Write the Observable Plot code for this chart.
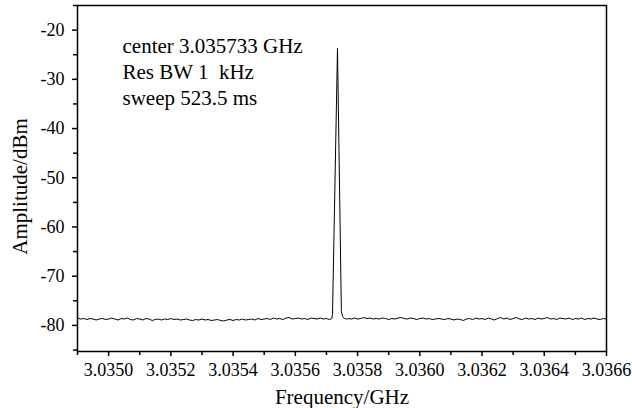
<!DOCTYPE html>
<html><head><meta charset="utf-8">
<script src="https://cdn.jsdelivr.net/npm/d3@7"></script>
<script src="https://cdn.jsdelivr.net/npm/@observablehq/plot@0.6"></script>
<style>body{margin:0;background:#fff}</style>
</head><body><div id="chart"></div>
<script>
// Noise floor sampled on a uniform sweep grid (GHz), amplitudes in dBm
const noiseLeftStart = 3.03490;
const noiseRightStart = 3.03577;
const noiseStep = 0.00001;
const noiseLeft = [
 -78.5,-78.7,-78.6,-78.8,-78.6,-78.7,-78.9,-78.7,-78.6,-78.8,
 -78.7,-78.5,-78.7,-78.9,-78.6,-78.7,-78.5,-78.8,-78.9,-78.6,
 -78.7,-78.9,-78.6,-78.7,-79.0,-78.8,-78.7,-78.9,-78.7,-78.8,
 -78.6,-78.8,-78.7,-78.9,-78.8,-78.7,-78.9,-79.0,-78.8,-78.9,
 -78.7,-78.9,-78.8,-79.0,-78.9,-78.8,-79.0,-79.1,-78.9,-78.8,
 -79.0,-78.8,-78.9,-78.7,-78.9,-78.8,-78.7,-78.9,-78.6,-78.8,
 -78.7,-78.6,-78.8,-78.5,-78.7,-78.6,-78.8,-78.5,-78.4,-78.7,
 -78.6,-78.5,-78.7,-78.6,-78.8,-78.5,-78.6,-78.7,-78.5,-78.7,
 -78.6,-78.8
];
const noiseRight = [
 -78.6,-78.7,-78.5,-78.7,-78.6,-78.4,-78.6,-78.5,-78.7,-78.6,
 -78.7,-78.5,-78.6,-78.8,-78.6,-78.7,-78.5,-78.4,-78.6,-78.7,
 -78.5,-78.6,-78.8,-78.6,-78.5,-78.7,-78.6,-78.8,-78.7,-78.6,
 -78.7,-78.8,-78.6,-78.7,-78.9,-78.7,-78.8,-79.0,-78.7,-78.6,
 -78.8,-78.5,-78.7,-78.6,-78.8,-78.5,-78.7,-78.9,-78.6,-78.4,
 -78.7,-78.5,-78.8,-78.6,-78.4,-78.7,-78.8,-78.5,-78.7,-78.6,
 -78.8,-78.5,-78.7,-78.6,-78.4,-78.7,-78.6,-78.8,-78.5,-78.6,
 -78.7,-78.5,-78.8,-78.6,-78.7,-78.5,-78.8,-78.6,-78.7,-78.5,
 -78.7,-78.8,-78.6,-78.7
];
// Carrier peak
const peakFreq = [3.0357170, 3.0357195, 3.0357355, 3.0357480, 3.0357520, 3.0357580, 3.0357650];
const peakAmp  = [-78.6, -77.8, -23.7, -77.2, -78.2, -78.6, -78.7];

const xMajorTicks = [3.0350, 3.0352, 3.0354, 3.0356, 3.0358, 3.0360, 3.0362, 3.0364, 3.0366];
const xMinorTicks = [3.0349, 3.0351, 3.0353, 3.0355, 3.0357, 3.0359, 3.0361, 3.0363, 3.0365];
const yMajorTicks = [-80, -70, -60, -50, -40, -30, -20];
const yMinorTicks = [-85, -75, -65, -55, -45, -35, -25, -15];
const annotationLines = ["center 3.035733 GHz", "Res BW 1  kHz", "sweep 523.5 ms"];
const xLabel = "Frequency/GHz";
const yLabel = "Amplitude/dBm";

const trace = [
  ...noiseLeft.map((a, i) => ({f: noiseLeftStart + i * noiseStep, a})),
  ...peakFreq.map((f, i) => ({f, a: peakAmp[i]})),
  ...noiseRight.map((a, i) => ({f: noiseRightStart + i * noiseStep, a}))
].sort((p, q) => p.f - q.f);

const font = "'Liberation Serif', 'Times New Roman', serif";

const chart = Plot.plot({
  width: 632,
  height: 408,
  marginLeft: 77,
  marginRight: 26,
  marginTop: 5,
  marginBottom: 57,
  x: {domain: [3.0349, 3.0366]},
  y: {domain: [-85.3, -15]},
  style: {fontFamily: font, fontSize: "18px", color: "black", background: "white"},
  marks: [
    Plot.line(trace, {x: "f", y: "a", stroke: "black", strokeWidth: 1}),
    Plot.frame({stroke: "black", strokeWidth: 1.5}),
    Plot.axisX({ticks: xMajorTicks, tickSize: 5, tickPadding: 7, strokeWidth: 1.5,
      tickFormat: d => d.toFixed(4), label: null, fontSize: 18}),
    Plot.axisX({ticks: xMinorTicks, tickSize: 4, strokeWidth: 1.5, tickFormat: () => "", label: null}),
    Plot.axisY({ticks: yMajorTicks, tickSize: 5, tickPadding: 8, strokeWidth: 1.5,
      tickFormat: d => String(d), label: null, fontSize: 18}),
    Plot.axisY({ticks: yMinorTicks, tickSize: 4, strokeWidth: 1.5, tickFormat: () => "", label: null}),
    Plot.text([xLabel], {frameAnchor: "bottom", lineAnchor: "middle", dy: 46, fontSize: 21, fill: "black"}),
    Plot.text([yLabel], {frameAnchor: "left", textAnchor: "middle", lineAnchor: "middle", rotate: -90,
      dx: -57, dy: 8, fontSize: 21, fill: "black"}),
    Plot.text([annotationLines.join("\n")], {x: 3.0350446, y: -20.8, textAnchor: "start",
      lineAnchor: "top", lineHeight: 1.24, fontSize: 21, fill: "black"})
  ]
});
document.getElementById("chart").append(chart);
</script>
</body></html>
